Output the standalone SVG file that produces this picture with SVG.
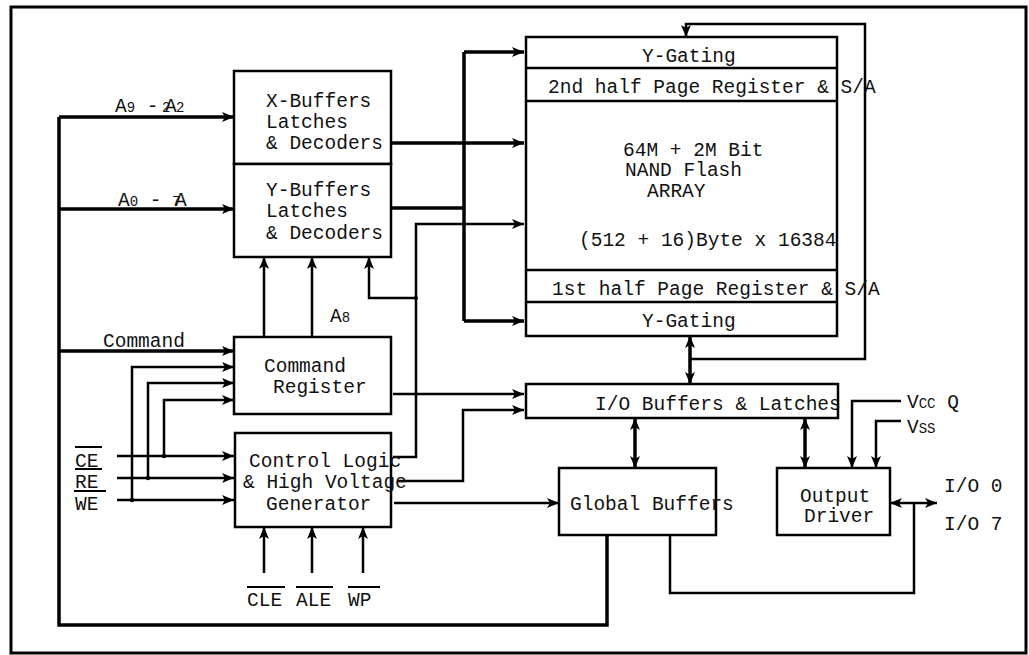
<svg xmlns="http://www.w3.org/2000/svg" width="1029" height="655" viewBox="0 0 1029 655">
<style>
text{font-family:"Liberation Mono","Courier New",monospace;font-size:19.5px;fill:#111}
.sm{font-size:14px}
.box{fill:#fff;stroke:#000;stroke-width:2.5}
.w{fill:none;stroke:#000;stroke-width:2.5}
.t{fill:none;stroke:#000;stroke-width:3.5}
.ov{stroke:#000;stroke-width:2}
</style>
<defs>
<marker id="ah" markerUnits="userSpaceOnUse" markerWidth="12" markerHeight="10" refX="12" refY="5" orient="auto-start-reverse" viewBox="0 0 12 10">
<path d="M0,0 L12,5 L0,10 L3,5 z" fill="#000"/>
</marker>
</defs>
<rect x="11" y="7" width="1015" height="646" fill="#fff" stroke="#000" stroke-width="3"/>

<g id="connectors">
<path class="t" d="M59,117 V625 H607 V535"/>
<path class="t" d="M59,117 H234" marker-end="url(#ah)"/>
<path class="t" d="M59,209 H234" marker-end="url(#ah)"/>
<path class="t" d="M59,351 H234" marker-end="url(#ah)"/>
<path class="t" d="M391,143 H524" marker-end="url(#ah)"/>
<path class="t" d="M391,208 H464"/>
<path class="t" d="M464,52 V321"/>
<path class="t" d="M464,52 H524" marker-end="url(#ah)"/>
<path class="t" d="M464,321 H524" marker-end="url(#ah)"/>
<path class="w" d="M393,457 H416 V224 H524" marker-end="url(#ah)"/>
<path class="w" d="M416,298 H369 V257" marker-end="url(#ah)"/>
<circle cx="416" cy="298" r="2"/>
<path class="w" d="M264,337 V257" marker-end="url(#ah)"/>
<path class="w" d="M312,337 V257" marker-end="url(#ah)"/>
<path class="w" d="M393,394 H524" marker-end="url(#ah)"/>
<path class="w" d="M397,481 H463 V410 H524" marker-end="url(#ah)"/>
<path class="w" d="M394,503 H559" marker-end="url(#ah)"/>
<path class="w" d="M117,456 H234" marker-end="url(#ah)"/>
<path class="w" d="M117,478 H234" marker-end="url(#ah)"/>
<path class="w" d="M117,500 H234" marker-end="url(#ah)"/>
<path class="w" d="M164,456 V400 H234" marker-end="url(#ah)"/>
<path class="w" d="M148,478 V383 H234" marker-end="url(#ah)"/>
<path class="w" d="M132,500 V367 H234" marker-end="url(#ah)"/>
<circle cx="164" cy="456" r="2.2"/>
<circle cx="148" cy="478" r="2.2"/>
<circle cx="132" cy="500" r="2.2"/>
<path class="w" d="M264,573 V527" marker-end="url(#ah)"/>
<path class="w" d="M312,573 V527" marker-end="url(#ah)"/>
<path class="w" d="M363,573 V527" marker-end="url(#ah)"/>
<path class="w" d="M690,359 H865 V24 H686 V37" marker-end="url(#ah)"/>
<path class="t" d="M690,336 V384" marker-start="url(#ah)" marker-end="url(#ah)"/>
<path class="t" d="M635,418 V468" marker-start="url(#ah)" marker-end="url(#ah)"/>
<path class="t" d="M805,418 V468" marker-start="url(#ah)" marker-end="url(#ah)"/>
<path class="w" d="M901,401 H852 V468" marker-end="url(#ah)"/>
<path class="w" d="M901,421 H876 V468" marker-end="url(#ah)"/>
<path class="w" d="M890,503 H937" marker-start="url(#ah)" marker-end="url(#ah)"/>
<path class="w" d="M914,503 V593 H670 V535"/>
</g>

<g id="labels">
<text x="115" y="112">A<tspan class="sm">9</tspan> -</text>
<text x="165" y="112">A</text>
<text class="sm" x="162" y="112">2</text>
<text class="sm" x="176" y="112">2</text>
<text x="118" y="206">A<tspan class="sm">0</tspan> -</text>
<text class="sm" x="172" y="206">7</text>
<text x="175" y="206">A</text>
<text x="330" y="322">A<tspan class="sm">8</tspan></text>
<text x="103" y="347">Command</text>
<text x="75" y="467">CE</text>
<text x="75" y="488">RE</text>
<text x="75" y="510">WE</text>
<line class="ov" x1="75" y1="447" x2="102" y2="447"/>
<line class="ov" x1="75" y1="469" x2="102" y2="469"/>
<line class="ov" x1="74" y1="491" x2="106" y2="491"/>
<text x="247" y="606">CLE</text>
<text x="296" y="606">ALE</text>
<text x="348" y="606">WP</text>
<line class="ov" x1="247" y1="587" x2="285" y2="587"/>
<line class="ov" x1="296" y1="587" x2="333" y2="587"/>
<line class="ov" x1="348" y1="587" x2="380" y2="587"/>
<text x="907" y="408">V<tspan class="sm">CC</tspan> Q</text>
<text x="907" y="433">V<tspan class="sm">SS</tspan></text>
<text x="944" y="492">I/O 0</text>
<text x="944" y="530">I/O 7</text>
</g>

<g id="xbuf">
<rect class="box" x="234" y="71" width="157" height="93"/>
<text x="266" y="107">X-Buffers</text>
<text x="266" y="128">Latches</text>
<text x="266" y="149">&amp; Decoders</text>
</g>
<g id="ybuf">
<rect class="box" x="234" y="164" width="157" height="93"/>
<text x="266" y="196">Y-Buffers</text>
<text x="266" y="217">Latches</text>
<text x="266" y="239">&amp; Decoders</text>
</g>
<g id="cmdreg">
<rect class="box" x="234" y="337" width="157" height="77"/>
<text x="264" y="372">Command</text>
<text x="273" y="393">Register</text>
</g>
<g id="ctrl">
<rect class="box" x="235" y="433" width="156" height="94"/>
<text x="249" y="467">Control Logic</text>
<text x="243" y="488">&amp; High Voltage</text>
<text x="266" y="510">Generator</text>
</g>
<g id="array">
<rect class="box" x="526" y="37" width="311" height="299"/>
<line class="w" x1="526" y1="68" x2="837" y2="68"/>
<line class="w" x1="526" y1="101" x2="837" y2="101"/>
<line class="w" x1="526" y1="270" x2="837" y2="270"/>
<line class="w" x1="526" y1="302" x2="837" y2="302"/>
<text x="642" y="62">Y-Gating</text>
<text x="548" y="93">2nd half Page Register &amp; S/A</text>
<text x="623" y="156">64M + 2M Bit</text>
<text x="625" y="176">NAND Flash</text>
<text x="647" y="197">ARRAY</text>
<text x="579" y="246">(512 + 16)Byte x 16384</text>
<text x="552" y="295">1st half Page Register &amp; S/A</text>
<text x="642" y="327">Y-Gating</text>
</g>
<g id="iobuf">
<rect class="box" x="526" y="384" width="312" height="34"/>
<text x="595" y="410">I/O Buffers &amp; Latches</text>
</g>
<g id="global">
<rect class="box" x="559" y="468" width="157" height="67"/>
<text x="570" y="510">Global Buffers</text>
</g>
<g id="outdrv">
<rect class="box" x="777" y="468" width="113" height="67"/>
<text x="800" y="502">Output</text>
<text x="804" y="522">Driver</text>
</g>
</svg>
